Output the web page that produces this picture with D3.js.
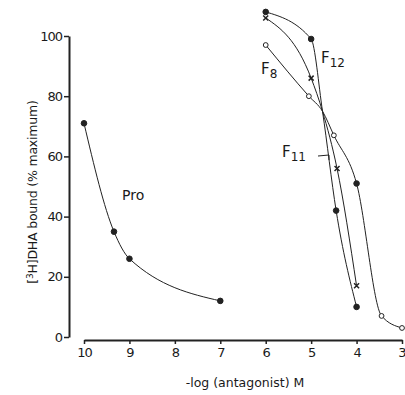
<!DOCTYPE html>
<html><head><meta charset="utf-8">
<script src="https://cdn.jsdelivr.net/npm/d3@7"></script>
<style>body{margin:0;background:#fff}svg{display:block}text{font-family:"DejaVu Sans",sans-serif;fill:#1a1a1a}</style>
</head><body>
<svg id="c" width="405" height="395"></svg>
<script>
// Data (x = -log [antagonist] M, y = % maximum bound)
const xTicks = [10, 9, 8, 7, 6, 5, 4, 3];
const yTicks = [0, 20, 40, 60, 80, 100];
const proX = [10, 9.34, 9, 7];
const proY = [71, 35, 26, 12];
const f12X = [6, 5, 4.75, 4.45, 4];
const f12Y = [108, 99, 75, 42, 10];
const f11X = [6, 5, 4.75, 4.43, 4];
const f11Y = [106, 86, 75, 56, 17];
const f8X = [6, 5.05, 4.75, 4.5, 4, 3.45, 3];
const f8Y = [97, 80, 75, 67, 51, 7, 3];

const svg = d3.select("#c");
const x = d3.scaleLinear().domain([10, 3]).range([84, 402]);
const y = d3.scaleLinear().domain([0, 100]).range([337, 36]);
const ink = "#222";

// y axis
const yAxis = svg.append("g").attr("transform", "translate(69,0)")
  .call(d3.axisLeft(y).tickValues(yTicks).tickFormat(d3.format("d")).tickSize(5).tickSizeOuter(0).tickPadding(2));
yAxis.select(".domain").attr("stroke", ink).attr("stroke-width", 2);
yAxis.selectAll(".tick line").attr("stroke", ink).attr("stroke-width", 1.5);
yAxis.selectAll(".tick text").attr("font-size", 13).attr("fill", ink).attr("letter-spacing", -1);

// x axis
const xAxis = svg.append("g").attr("transform", "translate(0,340)")
  .call(d3.axisBottom(x).tickValues(xTicks).tickFormat(d3.format("d")).tickSize(4).tickSizeOuter(0).tickPadding(4));
xAxis.select(".domain").attr("stroke", ink).attr("stroke-width", 2);
xAxis.selectAll(".tick line").attr("stroke", ink).attr("stroke-width", 1.5);
xAxis.selectAll(".tick text").attr("font-size", 13).attr("fill", ink).attr("letter-spacing", -1);
xAxis.selectAll(".tick text").filter(d => d === 3).attr("text-anchor", "end").attr("dx", 3);

const line = d3.line().x(d => x(d[0])).y(d => y(d[1])).curve(d3.curveMonotoneX);
function series(xs, ys) { return xs.map((v, i) => [v, ys[i]]); }

const all = [
  {d: series(proX, proY), m: ["f","f","f","f"]},
  {d: series(f12X, f12Y), m: ["f","f",null,"f","f"]},
  {d: series(f11X, f11Y), m: ["x","x",null,"x","x"]},
  {d: series(f8X, f8Y), m: ["o","o",null,"o","f","o","o"]}
];
all.forEach(s => {
  svg.append("path").attr("d", line(s.d)).attr("fill", "none")
    .attr("stroke", ink).attr("stroke-width", 1);
  s.d.forEach((p, i) => {
    const t = s.m[i];
    if (!t) return;
    if (t === "x") {
      svg.append("path")
        .attr("d", `M${x(p[0])-2.5},${y(p[1])-2.5}L${x(p[0])+2.5},${y(p[1])+2.5}M${x(p[0])+2.5},${y(p[1])-2.5}L${x(p[0])-2.5},${y(p[1])+2.5}`)
        .attr("stroke", ink).attr("stroke-width", 1.5);
    } else {
      svg.append("circle").attr("cx", x(p[0])).attr("cy", y(p[1])).attr("r", t === "f" ? 2.8 : 2.4)
        .attr("fill", t === "f" ? ink : "#fff").attr("stroke", ink).attr("stroke-width", 1);
    }
  });
});

// labels
svg.append("text").attr("x", 122).attr("y", 200).attr("font-size", 14).text("Pro");
function flabel(px, py, sub) {
  const t = svg.append("text").attr("x", px).attr("y", py).attr("font-size", 15);
  t.append("tspan").text("F");
  t.append("tspan").attr("dy", 4).attr("font-size", 12).text(sub);
}
flabel(321, 63, "12");
flabel(261, 74, "8");
flabel(282, 157, "11");
svg.append("path").attr("d", "M318,156L329,155L329,160").attr("fill", "none").attr("stroke", ink).attr("stroke-width", 1);

// axis titles
svg.append("text").attr("transform", "translate(37,192) rotate(-90)").attr("text-anchor", "middle")
  .attr("font-size", 12.5).attr("letter-spacing", -0.2)
  .html('[<tspan dy="-4" font-size="9">3</tspan><tspan dy="4">H]DHA bound (% maximum)</tspan>');
svg.append("text").attr("x", 245).attr("y", 387).attr("text-anchor", "middle")
  .attr("font-size", 12.5).text("-log (antagonist) M");
</script>
</body></html>
